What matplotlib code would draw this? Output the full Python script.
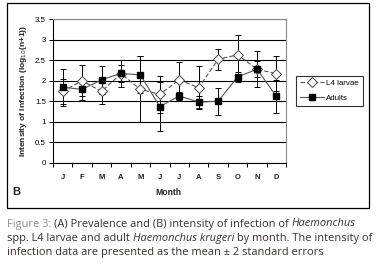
import numpy as np
import matplotlib
matplotlib.use('Agg')
import matplotlib.pyplot as plt
from matplotlib.patches import Rectangle

# data (log10(n+1), mean +/- 2 SE)
months = ['J', 'F', 'M', 'A', 'M', 'J', 'J', 'A', 'S', 'O', 'N', 'D']
l4_mean = [1.74, 2.00, 1.74, 2.17, 1.79, 1.67, 2.02, 1.83, 2.52, 2.63, 2.28, 2.17]
l4_err = [0.31, 0.37, 0.31, 0.20, 0.80, 0.45, 0.43, 0.53, 0.25, 0.47, 0.20, 0.42]
ad_mean = [1.84, 1.79, 2.02, 2.18, 2.14, 1.37, 1.63, 1.48, 1.50, 2.09, 2.28, 1.62]
ad_err = [0.45, 0.25, 0.34, 0.33, 0.45, 0.60, 0.10, 0.15, 0.33, 0.13, 0.44, 0.40]

plt.rcParams['font.family'] = ['Liberation Sans', 'DejaVu Sans']

fig = plt.figure(figsize=(3.78, 2.68), dpi=100)

# outer box around panel B
fig.patches.append(Rectangle((0.0185, 0.224), 0.9575, 0.765, transform=fig.transFigure,
                             fill=False, edgecolor='black', linewidth=0.9))

ax = fig.add_axes([0.140, 0.392, 0.617, 0.537])
x = np.arange(len(months))

ax.errorbar(x, l4_mean, yerr=l4_err, fmt='none', ecolor='black', elinewidth=0.7,
            capsize=2.5, capthick=0.7, zorder=3)
ax.errorbar(x, ad_mean, yerr=ad_err, fmt='none', ecolor='black', elinewidth=0.7,
            capsize=2.5, capthick=0.7, zorder=3)
ax.plot(x, l4_mean, color='#555555', linestyle=(0, (4, 2)), linewidth=0.8,
        marker='D', markersize=4.8, markerfacecolor='white', markeredgecolor='#444444',
        markeredgewidth=0.7, label='L4 larvae', zorder=4)
ax.plot(x, ad_mean, color='#555555', linestyle='-', linewidth=0.8,
        marker='s', markersize=5, markerfacecolor='black', markeredgecolor='black',
        label='Adults', zorder=5)

ax.set_xlim(-0.5, 11.5)
ax.set_ylim(0, 3.5)
ax.set_yticks(np.arange(0, 3.51, 0.5))
ax.set_yticklabels(['0', '0.5', '1', '1.5', '2', '2.5', '3', '3.5'])
ax.yaxis.grid(True, color='black', linewidth=0.8)
ax.set_axisbelow(True)

ax.set_xticks(np.arange(-0.5, 12, 1))
ax.set_xticklabels([])
ax.set_xticks(x, minor=True)
ax.set_xticklabels(months, minor=True, fontsize=5.5, fontweight='bold', color='#222222')
ax.tick_params(axis='x', which='minor', length=0, pad=8)
ax.tick_params(axis='x', which='major', length=3, width=0.7, direction='out')
ax.tick_params(axis='y', length=3, width=0.7, direction='out', labelsize=5.7, pad=2)

for s in ['top', 'right']:
    ax.spines[s].set_color('#888888')
    ax.spines[s].set_linewidth(0.8)
for s in ['left', 'bottom']:
    ax.spines[s].set_color('black')
    ax.spines[s].set_linewidth(0.8)

ax.set_ylabel('Intensity of Infection (log$_{10}$(n+1))', fontsize=6, fontweight='bold',
              labelpad=4, color='#222222')
fig.text(0.445, 0.283, 'Month', fontsize=6.2, fontweight='bold', ha='center', va='center',
         color='#222222')
fig.text(0.043, 0.283, 'B', fontsize=8, fontweight='bold', ha='center', va='center',
         color='#222222')

leg = fig.legend(loc='center', bbox_to_anchor=(0.872, 0.662), fontsize=5.7, frameon=True,
                 fancybox=False, edgecolor='black', handlelength=3.0, handletextpad=0.3,
                 borderpad=0.5, labelspacing=0.9, borderaxespad=0)
leg.get_frame().set_linewidth(0.8)

# caption with mixed styles
cap_font = ['Open Sans', 'DejaVu Sans']
lines = [
    [('Figure 3: ', 'normal', '#8a8a8a'), ('(A) Prevalence and (B) intensity of infection of ', 'normal', '#3a2e2e'),
     ('Haemonchus', 'italic', '#3a2e2e')],
    [('spp. L4 larvae and adult ', 'normal', '#3a2e2e'), ('Haemonchus krugeri', 'italic', '#3a2e2e'),
     (' by month. The intensity of', 'normal', '#3a2e2e')],
    [('infection data are presented as the mean \u00b1 2 standard errors', 'normal', '#3a2e2e')],
]
fig.canvas.draw()
renderer = fig.canvas.get_renderer()
y0 = 1 - 224 / 268
for i, parts in enumerate(lines):
    xpos = 7 / 378
    ypos = y0 - i * 14 / 268
    for txt, style, col in parts:
        t = fig.text(xpos, ypos, txt, fontsize=7.9, style=style, color=col,
                     family=cap_font, va='center', ha='left')
        bb = t.get_window_extent(renderer=renderer)
        xpos += bb.width / fig.bbox.width

fig.savefig('out.png', dpi=100)
